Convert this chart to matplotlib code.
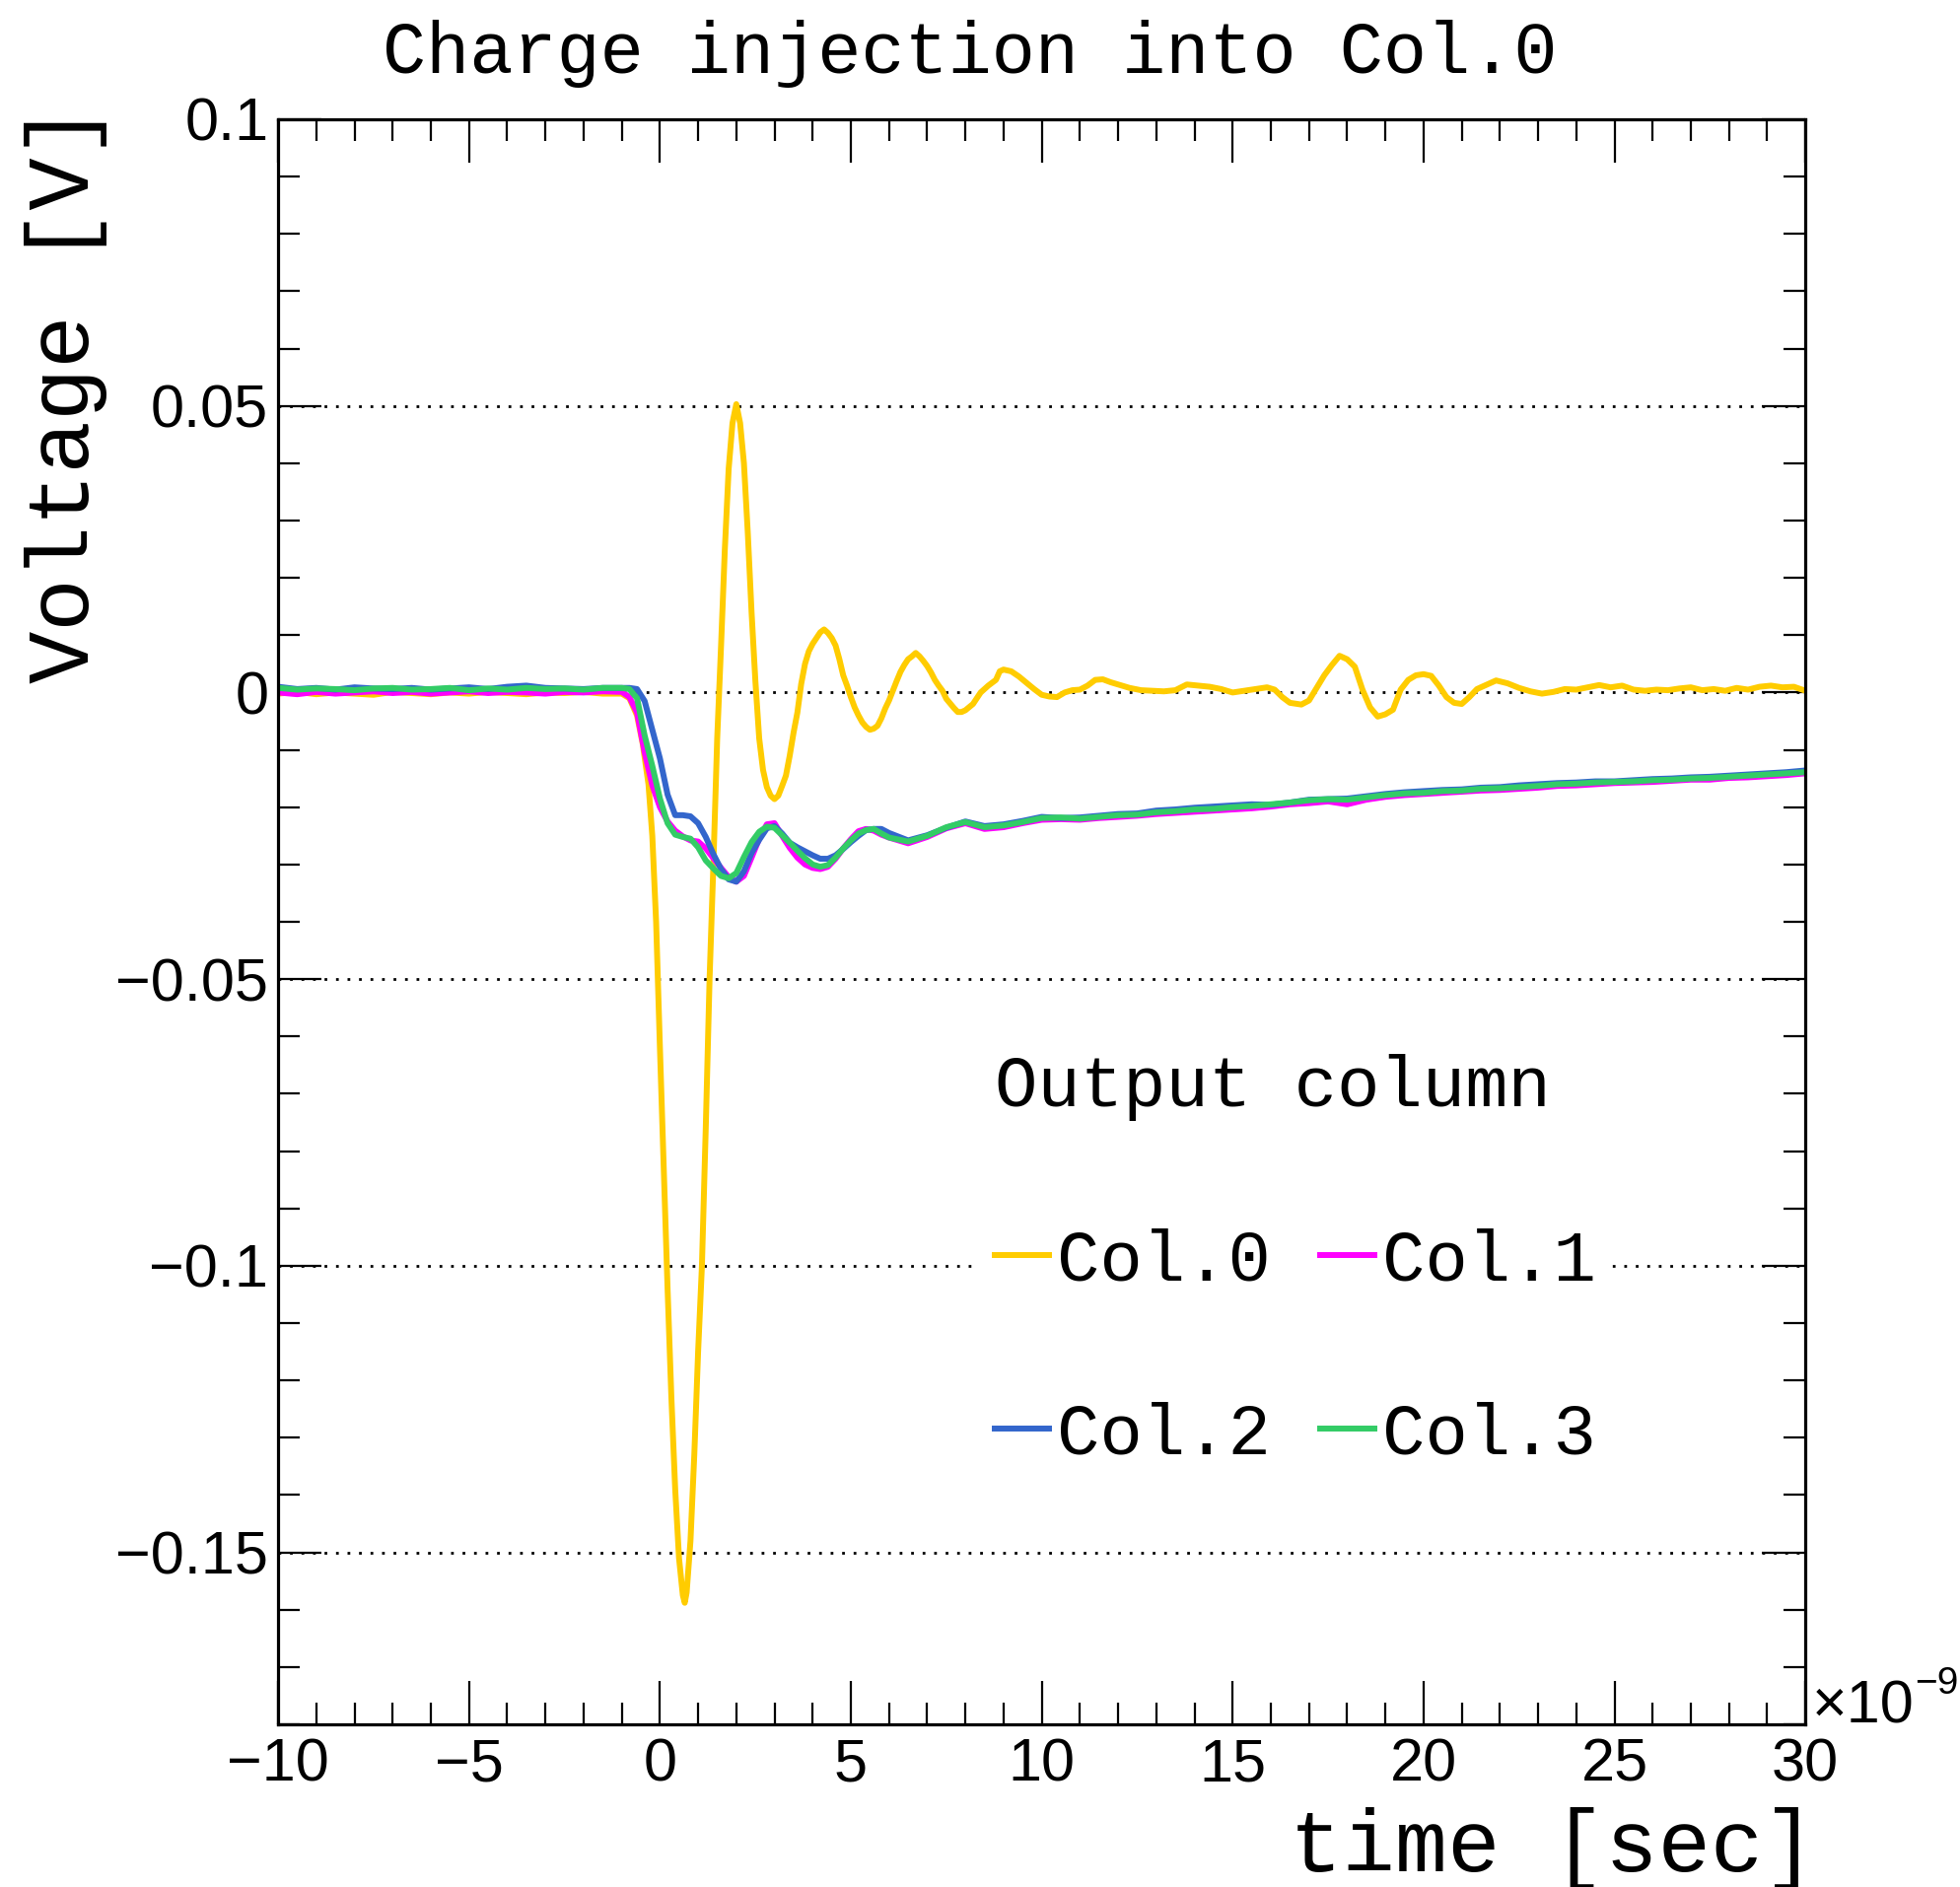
import matplotlib
matplotlib.use("Agg")
import matplotlib.pyplot as plt
from matplotlib.ticker import MultipleLocator, FuncFormatter
import numpy as np

MONO = "Liberation Mono"
SANS = "Liberation Sans"

# ---------------------------------------------------------------
# Scope traces after injecting charge into column 0.
# time in ns, voltage in V
# ---------------------------------------------------------------

# Col.0 (injected column), (t, V) pairs
col0_points = [
    (-10.0, -0.0002), (-9.5, 0.0001), (-9.0, -0.0003), (-8.5, 0.0000), (-8.0, -0.0002),
    (-7.5, -0.0004), (-7.0, 0.0001), (-6.5, -0.0001), (-6.0, -0.0003), (-5.5, 0.0000),
    (-5.0, -0.0002), (-4.5, 0.0001), (-4.0, -0.0001), (-3.5, -0.0003), (-3.0, 0.0000),
    (-2.5, -0.0001), (-2.0, 0.0001), (-1.5, -0.0002), (-1.0, -0.0002),
    (-0.8, -0.001), (-0.6, -0.004), (-0.45, -0.009), (-0.3, -0.016), (-0.2, -0.025),
    (-0.1, -0.040), (0.0, -0.062), (0.1, -0.083), (0.2, -0.104), (0.3, -0.123),
    (0.4, -0.139), (0.5, -0.151), (0.6, -0.1575), (0.65, -0.1588), (0.7, -0.157),
    (0.8, -0.148), (0.9, -0.133), (1.0, -0.115), (1.1, -0.100), (1.2, -0.076),
    (1.3, -0.050), (1.4, -0.030), (1.5, -0.008), (1.6, 0.008), (1.7, 0.025),
    (1.8, 0.039), (1.9, 0.047), (2.0, 0.0503), (2.1, 0.047), (2.2, 0.040),
    (2.3, 0.028), (2.4, 0.014), (2.5, 0.002), (2.6, -0.008), (2.7, -0.0135),
    (2.8, -0.0165), (2.9, -0.018), (3.0, -0.0186), (3.1, -0.018), (3.2, -0.0163),
    (3.3, -0.0145), (3.4, -0.011), (3.5, -0.007), (3.6, -0.0035), (3.7, 0.0015),
    (3.8, 0.005), (3.9, 0.0072), (4.0, 0.0085), (4.1, 0.0095), (4.2, 0.0105),
    (4.3, 0.011), (4.4, 0.0104), (4.5, 0.0095), (4.6, 0.0082), (4.7, 0.0058),
    (4.8, 0.0030), (4.9, 0.0012), (5.0, -0.0008), (5.1, -0.0026), (5.2, -0.0040),
    (5.3, -0.0052), (5.4, -0.0060), (5.5, -0.0065), (5.6, -0.0063), (5.7, -0.0058),
    (5.8, -0.0045), (5.9, -0.0028), (6.0, -0.0014), (6.1, 0.0003), (6.2, 0.0020),
    (6.3, 0.0036), (6.4, 0.0048), (6.5, 0.0058), (6.6, 0.0063), (6.7, 0.0069),
    (6.8, 0.0063), (6.9, 0.0055), (7.0, 0.0046), (7.1, 0.0035), (7.2, 0.0022),
    (7.3, 0.0012), (7.4, 0.0003), (7.5, -0.0011), (7.6, -0.0019), (7.7, -0.0027),
    (7.8, -0.0034), (7.9, -0.0034), (8.0, -0.0031), (8.2, -0.0020), (8.4, 0.0000),
    (8.6, 0.0012), (8.8, 0.0022), (8.9, 0.0037), (9.0, 0.0040), (9.2, 0.0037),
    (9.4, 0.0028), (9.6, 0.0017), (9.8, 0.0006), (10.0, -0.0004), (10.2, -0.0007),
    (10.4, -0.0008), (10.6, 0.0000), (10.8, 0.0004), (11.0, 0.0005), (11.2, 0.0012),
    (11.4, 0.0022), (11.6, 0.0023), (11.8, 0.0018), (12.0, 0.0014), (12.3, 0.0008),
    (12.6, 0.0004), (12.9, 0.0003), (13.2, 0.0002), (13.5, 0.0004), (13.8, 0.0014),
    (14.1, 0.0012), (14.4, 0.0010), (14.7, 0.0006), (15.0, 0.0000), (15.3, 0.0003),
    (15.6, 0.0006), (15.9, 0.0009), (16.1, 0.0005), (16.3, -0.0008), (16.5, -0.0018),
    (16.8, -0.0021), (17.0, -0.0014), (17.2, 0.0008), (17.4, 0.0030), (17.6, 0.0048),
    (17.8, 0.0064), (18.0, 0.0058), (18.2, 0.0045), (18.4, 0.0005), (18.6, -0.0026),
    (18.8, -0.0042), (19.0, -0.0038), (19.2, -0.0030), (19.4, 0.0005), (19.6, 0.0022),
    (19.8, 0.0030), (20.0, 0.0032), (20.2, 0.0029), (20.4, 0.0012), (20.6, -0.0008),
    (20.8, -0.0018), (21.0, -0.0020), (21.2, -0.0008), (21.4, 0.0006), (21.6, 0.0012),
    (21.9, 0.0021), (22.2, 0.0016), (22.5, 0.0008), (22.8, 0.0002), (23.1, -0.0002),
    (23.4, 0.0001), (23.7, 0.0006), (24.0, 0.0005), (24.3, 0.0009), (24.6, 0.0013),
    (24.9, 0.0009), (25.2, 0.0012), (25.5, 0.0005), (25.8, 0.0003), (26.1, 0.0005),
    (26.4, 0.0004), (26.7, 0.0007), (27.0, 0.0009), (27.3, 0.0004), (27.6, 0.0006),
    (27.9, 0.0003), (28.2, 0.0008), (28.5, 0.0005), (28.8, 0.0010), (29.1, 0.0012),
    (29.4, 0.0009), (29.7, 0.0010), (30.0, 0.0003),
]

# neighbouring columns share one time grid
t_grid = [
    -10.0, -9.5, -9.0, -8.5, -8.0, -7.5, -7.0, -6.5, -6.0, -5.5,
    -5.0, -4.5, -4.0, -3.5, -3.0, -2.5, -2.0, -1.5, -1.0,
    -0.8, -0.6, -0.4, -0.2, 0.0, 0.2, 0.4, 0.6, 0.8, 1.0,
    1.2, 1.4, 1.6, 1.8, 2.0, 2.2, 2.4, 2.6, 2.8, 3.0,
    3.2, 3.4, 3.6, 3.8, 4.0, 4.2, 4.4, 4.6, 4.8, 5.0,
    5.2, 5.4, 5.6, 5.8, 6.0,
    6.5, 7.0, 7.5, 8.0, 8.5, 9.0, 9.5, 10.0, 10.5, 11.0,
    11.5, 12.0, 12.5, 13.0, 13.5, 14.0, 14.5, 15.0, 15.5, 16.0,
    16.5, 17.0, 17.5, 18.0, 18.5, 19.0, 19.5, 20.0, 20.5, 21.0,
    21.5, 22.0, 22.5, 23.0, 23.5, 24.0, 24.5, 25.0, 25.5, 26.0,
    26.5, 27.0, 27.5, 28.0, 28.5, 29.0, 29.5, 30.0,
]

col1_v = [
    0.0000, -0.0003, 0.0001, -0.0002, 0.0000, 0.0002, -0.0001, 0.0001, -0.0002, 0.0000,
    0.0002, -0.0001, 0.0001, 0.0000, -0.0002, 0.0001, 0.0000, 0.0002, 0.0001,
    -0.0008, -0.0035, -0.0105, -0.0162, -0.0200, -0.0225, -0.0241, -0.0251, -0.0258, -0.0260,
    -0.0272, -0.0289, -0.0306, -0.0322, -0.0330, -0.0320, -0.0288, -0.0255, -0.0230, -0.0228,
    -0.0250, -0.0271, -0.0288, -0.0300, -0.0306, -0.0308, -0.0304, -0.0290, -0.0272, -0.0256,
    -0.0242, -0.0238, -0.0241, -0.0248, -0.0253,
    -0.0263, -0.0252, -0.0237, -0.0228, -0.0238, -0.0235, -0.0228, -0.0222, -0.0221, -0.0222,
    -0.0219, -0.0217, -0.0215, -0.0212, -0.0210, -0.0208, -0.0206, -0.0204, -0.0202, -0.0199,
    -0.0195, -0.0193, -0.0190, -0.0195, -0.0187, -0.0182, -0.0179, -0.0177, -0.0175, -0.0173,
    -0.0171, -0.0170, -0.0168, -0.0166, -0.0163, -0.0162, -0.0160, -0.0158, -0.0157, -0.0156,
    -0.0154, -0.0152, -0.0152, -0.0149, -0.0148, -0.0146, -0.0144, -0.0141,
]

col2_v = [
    0.0010, 0.0006, 0.0008, 0.0005, 0.0009, 0.0007, 0.0006, 0.0008, 0.0005, 0.0007,
    0.0009, 0.0006, 0.0010, 0.0012, 0.0008, 0.0007, 0.0006, 0.0008, 0.0008,
    0.0008, 0.0006, -0.0015, -0.0065, -0.0115, -0.0178, -0.0214, -0.0214, -0.0216, -0.0228,
    -0.0252, -0.0282, -0.0308, -0.0326, -0.0330, -0.0312, -0.0280, -0.0257, -0.0237, -0.0233,
    -0.0246, -0.0262, -0.0270, -0.0277, -0.0284, -0.0290, -0.0290, -0.0284, -0.0273, -0.0261,
    -0.0250, -0.0240, -0.0238, -0.0238, -0.0245,
    -0.0258, -0.0249, -0.0236, -0.0225, -0.0233, -0.0230, -0.0224, -0.0217, -0.0219, -0.0218,
    -0.0215, -0.0212, -0.0211, -0.0206, -0.0204, -0.0201, -0.0199, -0.0197, -0.0195, -0.0196,
    -0.0192, -0.0187, -0.0186, -0.0185, -0.0181, -0.0177, -0.0174, -0.0172, -0.0170, -0.0169,
    -0.0166, -0.0165, -0.0162, -0.0160, -0.0158, -0.0157, -0.0155, -0.0155, -0.0153, -0.0151,
    -0.0150, -0.0148, -0.0147, -0.0145, -0.0143, -0.0141, -0.0139, -0.0136,
]

col3_v = [
    0.0008, 0.0005, 0.0007, 0.0006, 0.0004, 0.0007, 0.0008, 0.0005, 0.0006, 0.0008,
    0.0004, 0.0007, 0.0005, 0.0008, 0.0006, 0.0007, 0.0005, 0.0008, 0.0008,
    0.0006, -0.0010, -0.0075, -0.0128, -0.0185, -0.0228, -0.0248, -0.0252, -0.0255, -0.0270,
    -0.0293, -0.0307, -0.0320, -0.0324, -0.0315, -0.0287, -0.0261, -0.0243, -0.0234, -0.0236,
    -0.0249, -0.0262, -0.0276, -0.0289, -0.0300, -0.0304, -0.0301, -0.0288, -0.0272, -0.0258,
    -0.0246, -0.0240, -0.0238, -0.0246, -0.0253,
    -0.0260, -0.0250, -0.0235, -0.0226, -0.0235, -0.0232, -0.0226, -0.0219, -0.0218, -0.0220,
    -0.0217, -0.0214, -0.0213, -0.0209, -0.0207, -0.0204, -0.0203, -0.0200, -0.0198, -0.0195,
    -0.0192, -0.0188, -0.0186, -0.0187, -0.0183, -0.0179, -0.0176, -0.0175, -0.0172, -0.0171,
    -0.0168, -0.0167, -0.0165, -0.0163, -0.0160, -0.0159, -0.0157, -0.0156, -0.0155, -0.0153,
    -0.0152, -0.0150, -0.0149, -0.0147, -0.0145, -0.0143, -0.0141, -0.0139,
]

labels = ["Col.0", "Col.1", "Col.2", "Col.3"]
colors = ["#ffcc00", "#ff00ff", "#3366cc", "#33cc66"]

for v in (col1_v, col2_v, col3_v):
    assert len(v) == len(t_grid)

t0, v0 = np.array(col0_points).T


def volt_fmt(val, pos):
    if abs(val) < 1e-9:
        return "0"
    return ("%g" % round(val, 4)).replace("-", "\u2212")


fig = plt.figure(figsize=(19.88, 19.14), dpi=100)
ax = fig.add_axes([0.1419, 0.0862, 0.7792, 0.8506])

lw = 4.3
lines = []
lines += ax.plot(t0, v0, color=colors[0], lw=lw, label=labels[0])
for vals, lab, col in zip((col1_v, col2_v, col3_v), labels[1:], colors[1:]):
    lines += ax.plot(t_grid, vals, color=col, lw=lw, label=lab)

ax.set_xlim(-10, 30)
ax.set_ylim(-0.18, 0.1)

ax.xaxis.set_major_locator(MultipleLocator(5))
ax.xaxis.set_minor_locator(MultipleLocator(1))
ax.yaxis.set_major_locator(MultipleLocator(0.05))
ax.yaxis.set_minor_locator(MultipleLocator(0.01))
ax.yaxis.set_major_formatter(FuncFormatter(volt_fmt))
ax.xaxis.set_major_formatter(FuncFormatter(volt_fmt))

ax.tick_params(which="both", direction="in", top=True, right=True, width=1.6)
ax.tick_params(which="major", length=31.7)
ax.tick_params(which="minor", length=15.8)
ax.tick_params(axis="x", labelsize=44, pad=10)
ax.tick_params(axis="y", labelsize=44, pad=7)
for lab in ax.get_xticklabels() + ax.get_yticklabels():
    lab.set_family(SANS)
for sp in ax.spines.values():
    sp.set_linewidth(2.3)

ax.set_axisbelow(True)
ax.yaxis.grid(True, which="major", color="black", lw=2.0, linestyle=(0, (1, 3.2)))

# row-wise legend: Col.0 Col.1 / Col.2 Col.3
order = [0, 2, 1, 3]
leg = ax.legend([lines[i] for i in order], [labels[i] for i in order],
                ncol=2, loc="upper left", bbox_to_anchor=(0.4597, 0.4267),
                borderaxespad=0, title="Output column",
                prop={"family": MONO, "size": 52},
                title_fontproperties={"family": MONO, "size": 52},
                frameon=True, fancybox=False, framealpha=1,
                facecolor="white", edgecolor="none",
                borderpad=0.2, handlelength=0.76, handletextpad=0.12,
                columnspacing=0.69, labelspacing=1.5, alignment="left")

W, H = 1988.0, 1914.0
fig.text(984 / W, 1 - 74 / H, "Charge injection into Col.0",
         family=MONO, size=53, ha="center", va="baseline")
fig.text(90 / W, 1 - 106 / H, "Voltage [V]", family=MONO, size=64,
         rotation=90, rotation_mode="anchor", ha="right", va="baseline")
fig.text(1842 / W, 1 - 1898 / H, "time [sec]", family=MONO, size=64,
         ha="right", va="baseline")
fig.text(1838 / W, 1 - 1748 / H, "\u00d710", family=SANS, size=44,
         ha="left", va="baseline")
fig.text(1942 / W, 1 - 1718 / H, "\u22129", family=SANS, size=28,
         ha="left", va="baseline")

fig.savefig("out.png", dpi=100)
